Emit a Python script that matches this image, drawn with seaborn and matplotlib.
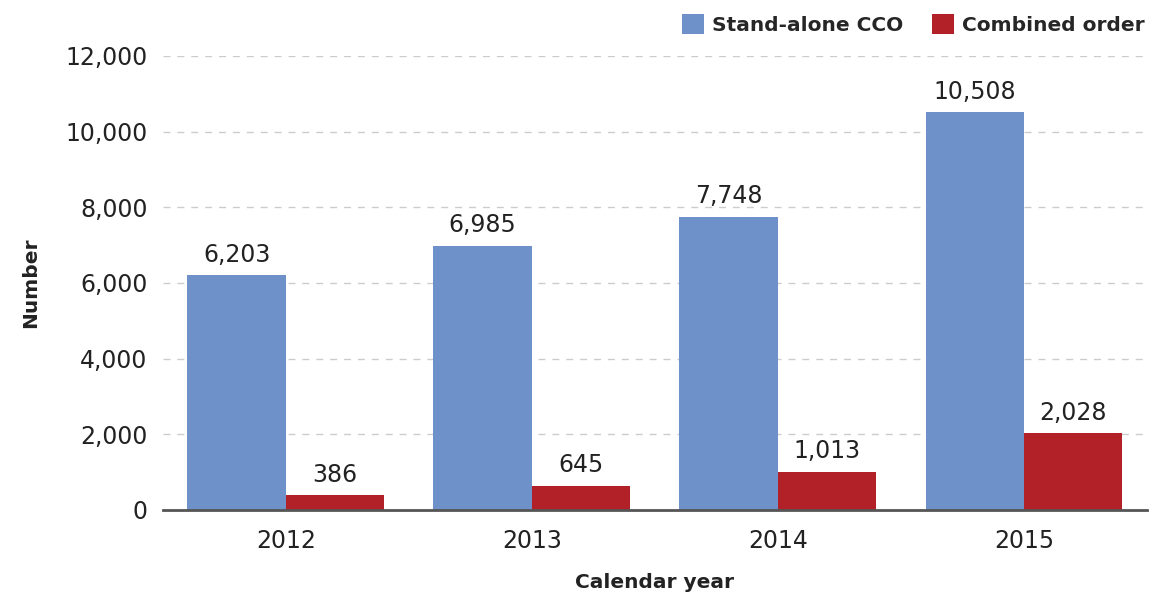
import pandas as pd
import matplotlib.pyplot as plt
import seaborn as sns

years = ['2012', '2013', '2014', '2015']
stand_alone = [6203, 6985, 7748, 10508]
combined = [386, 645, 1013, 2028]
series_names = ['Stand-alone CCO', 'Combined order']
colors = ['#6E91C9', '#B22028']

df = pd.DataFrame({
    'year': years * 2,
    'value': stand_alone + combined,
    'series': [series_names[0]] * 4 + [series_names[1]] * 4,
})

sns.set_theme(style='white')
plt.rcParams['font.family'] = ['DejaVu Sans']

fig = plt.figure(figsize=(11.55, 5.99), dpi=100)
ax = fig.add_axes([0.141, 0.1486, 0.852, 0.758])

sns.barplot(ax=ax, data=df, x='year', y='value', hue='series',
            palette=colors, width=0.8, saturation=1, gap=0, linewidth=0)

for cont in ax.containers:
    ax.bar_label(cont, labels=[f'{int(v):,}' for v in cont.datavalues],
                 padding=6, fontsize=17, color='#222222')

ax.set_ylim(0, 12000)
ax.set_xlim(-0.5, 3.5)
ax.set_yticks(range(0, 12001, 2000))
ax.set_yticklabels([f'{v:,}' for v in range(0, 12001, 2000)])
ax.tick_params(axis='both', labelsize=17, colors='#222222', length=0)
ax.tick_params(axis='y', pad=11)
ax.tick_params(axis='x', pad=14)
ax.yaxis.grid(True, linestyle=(0, (5, 5)), color='#cccccc', linewidth=1)
ax.set_axisbelow(True)
for s in ['top', 'right', 'left']:
    ax.spines[s].set_visible(False)
ax.spines['bottom'].set_color('#555555')
ax.spines['bottom'].set_linewidth(2)

ax.set_xlabel('Calendar year', fontsize=14.5, fontweight='bold', labelpad=14,
              color='#222222')
ax.set_ylabel('Number', fontsize=14.5, fontweight='bold', labelpad=18,
              color='#222222')

ax.legend(loc='lower right', bbox_to_anchor=(1.01, 1.02), ncol=2, frameon=False,
          prop={'weight': 'bold', 'size': 14.5},
          handlelength=1.1, handleheight=1.1, handletextpad=0.4,
          columnspacing=1.4, borderaxespad=0.2)

fig.savefig('out.png', dpi=100)
